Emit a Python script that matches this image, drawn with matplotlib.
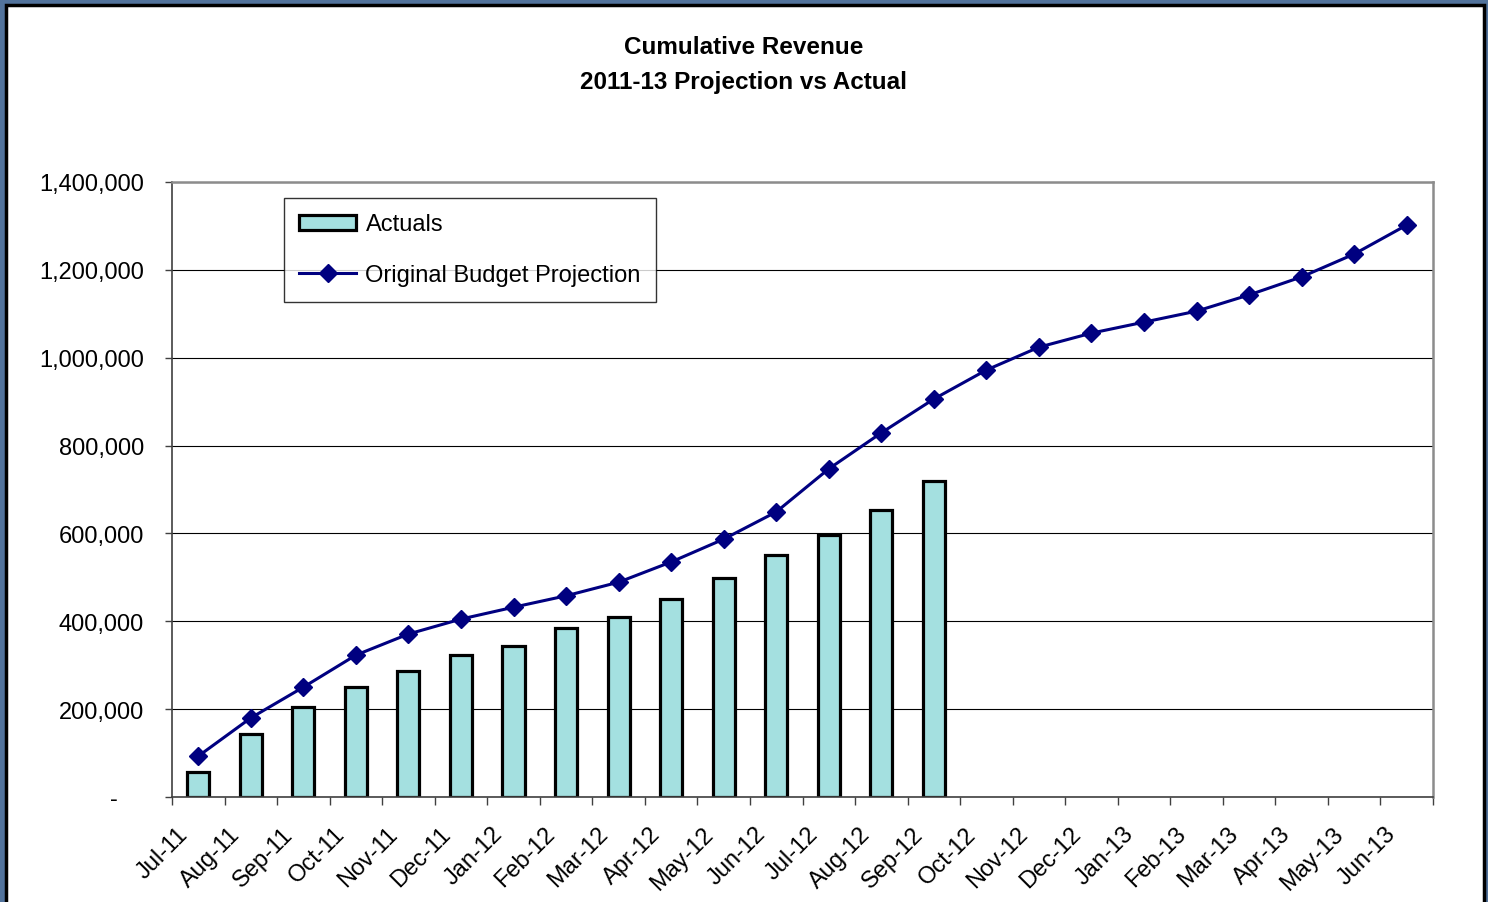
import numpy as np
import matplotlib
matplotlib.use("Agg")
import matplotlib.pyplot as plt
import matplotlib.transforms as mtransforms
from matplotlib.patches import Rectangle
from matplotlib.ticker import FuncFormatter

plt.rcParams['font.family'] = ['Liberation Sans', 'DejaVu Sans']

# months on the axis
months = ["Jul-11", "Aug-11", "Sep-11", "Oct-11", "Nov-11", "Dec-11",
          "Jan-12", "Feb-12", "Mar-12", "Apr-12", "May-12", "Jun-12",
          "Jul-12", "Aug-12", "Sep-12", "Oct-12", "Nov-12", "Dec-12",
          "Jan-13", "Feb-13", "Mar-13", "Apr-13", "May-13", "Jun-13"]

# actual cumulative revenue (only up to Sep-12)
actuals = [57000, 143000, 205000, 250000, 287000, 323000,
           344000, 385000, 410000, 451000, 498000, 551000,
           596000, 653000, 719000]

# original budget projection
projection = [93000, 180000, 250000, 323000, 371000, 405000,
              432000, 458000, 489000, 535000, 587000, 649000,
              747000, 829000, 906000, 972000, 1024000, 1056000,
              1081000, 1106000, 1143000, 1184000, 1236000, 1302000]

W, H = 1488, 903
fig = plt.figure(figsize=(W / 100, H / 100), dpi=100)
fig.patch.set_facecolor("#52739c")

# white chart panel with the black frame
fig.patches.append(Rectangle((6 / W, -0.02), 1478 / W, 1 + 0.02 - 6 / H,
                             transform=fig.transFigure, facecolor="white",
                             edgecolor="black", linewidth=2.5, zorder=-5))

ax = fig.add_axes([172 / W, 1 - 798 / H, (1433 - 172) / W, (798 - 183) / H])
ax.set_facecolor("white")

x = np.arange(len(months))
bars = ax.bar(x[:len(actuals)], actuals, width=0.42, color="#a4e0e0",
              edgecolor="black", linewidth=2.3, zorder=2, label="Actuals")
line, = ax.plot(x, projection, color="#000080", linewidth=2.2, marker="D",
                markersize=9, zorder=3, label="Original Budget Projection")

ax.set_xlim(-0.5, len(months) - 0.5)
ax.set_ylim(0, 1400000)
ax.set_yticks(np.arange(0, 1400001, 200000))
ax.yaxis.set_major_formatter(FuncFormatter(
    lambda v, p: "-    " if v == 0 else f"{int(v):,}"))
ax.yaxis.grid(True, color="black", linewidth=0.8, zorder=1)
ax.set_axisbelow(True)
ax.tick_params(axis="y", labelsize=17, length=5, width=1, pad=15,
               color="#404040")

# month labels at category centres, tick marks at the boundaries
ax.set_xticks(x)
ax.set_xticklabels(months, rotation=45, ha="right", va="center",
                   rotation_mode="anchor", fontsize=17)
ax.tick_params(axis="x", which="major", length=0, pad=24)
offset = mtransforms.ScaledTranslation(-14 / 100, 0, fig.dpi_scale_trans)
for lbl in ax.get_xticklabels():
    lbl.set_transform(lbl.get_transform() + offset)
ax.set_xticks(np.arange(-0.5, len(months), 1), minor=True)
ax.tick_params(axis="x", which="minor", length=6, width=1, color="#404040")

for side in ["top", "right"]:
    ax.spines[side].set_color("#8c8c8c")
    ax.spines[side].set_linewidth(1.8)
for side in ["left", "bottom"]:
    ax.spines[side].set_color("#404040")
    ax.spines[side].set_linewidth(1.2)

leg = ax.legend([bars, line], ["Actuals", "Original Budget Projection"],
                loc="upper left", bbox_to_anchor=((284 - 172) / 1261, (798 - 199) / 615),
                borderaxespad=0, fontsize=17, frameon=True, fancybox=False,
                edgecolor="black", handlelength=2.4, handleheight=0.6,
                handletextpad=0.4, labelspacing=1.22, borderpad=0.65, numpoints=1)
leg.get_frame().set_linewidth(1.0)

fig.text(0.5, 1 - 48 / H, "Cumulative Revenue", ha="center", va="center",
         fontsize=17.5, fontweight="bold")
fig.text(0.5, 1 - 82 / H, "2011-13 Projection vs Actual", ha="center",
         va="center", fontsize=17.5, fontweight="bold")

fig.savefig("out.png", dpi=100, facecolor=fig.get_facecolor())
